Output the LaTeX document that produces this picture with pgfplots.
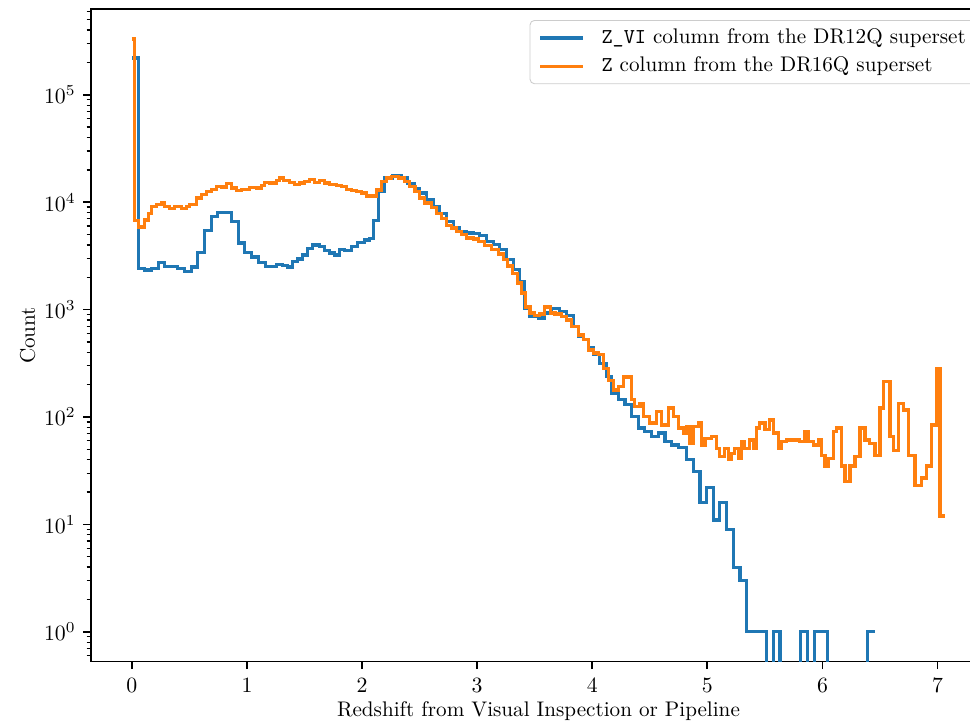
\documentclass[border=0pt]{standalone}
\usepackage{pgfplots}
\pgfplotsset{compat=1.18}
\definecolor{tabblue}{HTML}{1F77B4}
\definecolor{taborange}{HTML}{FF7F0E}
\newcommand{\figfont}{\fontsize{9.7}{11.6}\selectfont}
\begin{document}
\begin{tikzpicture}
\path[use as bounding box] (-41.74pt,-27.84pt) rectangle (403.2pt,303.4pt);
\begin{axis}[
  scale only axis,
  width=410.5pt, height=299.1pt,
  ymode=log,
  xmin=-0.355, xmax=7.42,
  ymin=0.53, ymax=6.24e5,
  xtick={0,1,2,3,4,5,6,7},
  ytick={1,10,100,1000,10000,100000},
  minor ytick={0.6,0.7,0.8,0.9,2,3,4,5,6,7,8,9,20,30,40,50,60,70,80,90,200,300,400,500,600,700,800,900,2000,3000,4000,5000,6000,7000,8000,9000,20000,30000,40000,50000,60000,70000,80000,90000,200000,300000,400000,500000,600000},
  tick align=outside,
  xtick pos=left, ytick pos=left,
  major tick length=3.5pt, minor tick length=2pt,
  tick style={black},
  major tick style={line width=0.8pt},
  minor tick style={line width=0.6pt},
  axis line style={line width=0.8pt},
  tick label style={font=\figfont},
  xticklabel style={yshift=-0.8pt},
  label style={font=\figfont},
  xlabel={Redshift from Visual Inspection or Pipeline},
  ylabel={Count},
  xlabel style={at={(axis description cs:0.5,-0.0608)}, anchor=north, inner sep=0pt},
  ylabel style={at={(axis description cs:-0.0709,0.5)}, anchor=center, inner sep=0pt},
  legend style={at={(1,1)}, anchor=north east, xshift=-5pt, yshift=-4.9pt,
    font=\figfont,
    draw=black!20, rounded corners=2pt, fill=white,
    inner xsep=4pt, inner ysep=3.5pt, row sep=4pt,
    nodes={inner sep=0pt, text height=7pt, text depth=2pt},
    /tikz/every odd column/.style={column sep=7.8pt}},
  legend cell align=left,
  legend image code/.code={\draw[line width=1.5pt, #1] (0pt,0pt) -- (19.5pt,0pt);},
]
\addplot[const plot, color=tabblue, line width=1.5pt] coordinates {
(0,220000) (0.0565,2430) (0.1129,2340) (0.1738,2430) (0.2346,2740) (0.2867,2500)
(0.3996,2410) (0.4605,2265) (0.5213,2490) (0.5734,3400) (0.6342,5450) (0.6924,7360)
(0.7472,8010) (0.8662,6610) (0.9235,4160) (0.9817,3400) (1.0426,3080) (1.1034,2740)
(1.1642,2500) (1.2572,2620) (1.3119,2560) (1.3553,2490) (1.3988,2790) (1.4422,2950)
(1.4857,3230) (1.5291,3700) (1.5725,3990) (1.6334,3840) (1.6768,3550) (1.7202,3370)
(1.7637,3230) (1.8071,3600) (1.8505,3550) (1.9114,3860) (1.9635,4220) (2.0243,4440)
(2.0678,4600) (2.1025,6700) (2.1399,12600) (2.1981,16800) (2.2676,17700) (2.3432,16800)
(2.3979,15000) (2.4561,13500) (2.5022,12150) (2.5604,10520) (2.6177,9120) (2.6759,7900)
(2.7341,6610) (2.7915,5740) (2.8497,5340) (2.9079,5150) (2.9652,5080) (3.0234,4870)
(3.0816,4310) (3.1390,4010) (3.1972,3600) (3.2554,2910) (3.3128,2350) (3.3710,1830)
(3.4144,1030) (3.4579,863) (3.5300,834) (3.5882,929) (3.6464,1030) (3.7185,960)
(3.7767,875) (3.8341,697) (3.8775,562) (3.9210,523) (3.9644,438) (4.0078,379)
(4.0660,317) (4.1242,238) (4.1677,167) (4.2251,145) (4.2833,130) (4.3415,101)
(4.3988,79) (4.4570,73) (4.5152,66) (4.5726,71) (4.6308,59) (4.6890,55)
(4.7463,52) (4.8193,40) (4.8766,31) (4.9349,16) (4.9931,22) (5.0504,11)
(5.1086,16) (5.1668,9) (5.2242,4) (5.2824,3) (5.3406,1) (5.5126,0.01)
(5.5717,1) (5.6308,0.01) (5.8097,1) (5.8697,0.01) (5.9296,1) (6.0426,0.01)
(6.3901,1) (6.4553,1)
};
\addlegendentry{\texttt{Z\_VI} column from the DR12Q superset}
\addplot[const plot, color=taborange, line width=1.5pt] coordinates {
(0,330000) (0.0261,6760) (0.0547,5870) (0.1129,6830) (0.1416,7800) (0.1711,9130)
(0.2146,9500) (0.2580,9980) (0.2867,9130) (0.3302,8700) (0.3736,9130) (0.4318,8700)
(0.4753,9130) (0.5039,9460) (0.5621,10960) (0.6056,11700) (0.6490,12600) (0.6924,13060)
(0.7359,14000) (0.7819,13840) (0.8228,14840) (0.8662,13530) (0.9096,12900) (0.9531,13200)
(0.9965,13060) (1.0252,13800) (1.0834,13530) (1.1268,14300) (1.1555,15200) (1.1990,15080)
(1.2572,15960) (1.2858,16770) (1.3145,15960) (1.3727,15270) (1.4162,14520) (1.4596,15080)
(1.5030,15610) (1.5465,16350) (1.5899,15270) (1.6334,15960) (1.6768,15080) (1.7202,14520)
(1.7784,14300) (1.8219,14030) (1.8653,13200) (1.9088,12800) (1.9522,12550) (1.9957,12150)
(2.0391,11400) (2.1260,13000) (2.1694,15600) (2.2129,16770) (2.2563,17300) (2.3137,16770)
(2.3719,15600) (2.4153,14030) (2.4588,12550) (2.5022,10960) (2.5456,9840) (2.6038,8950)
(2.6473,7900) (2.6907,7000) (2.7341,6100) (2.7776,5740) (2.8210,5340) (2.8645,4980)
(2.9079,4650) (2.9652,4550) (3.0087,4320) (3.0669,3940) (3.1251,3600) (3.1824,3300)
(3.2259,2910) (3.2606,2550) (3.3076,2170) (3.3475,1770) (3.3857,1430) (3.4231,1060)
(3.4579,930) (3.5013,875) (3.5447,910) (3.5882,1060) (3.6377,930) (3.6751,910)
(3.7333,863) (3.7767,800) (3.8202,700) (3.8775,580) (3.9210,525) (3.9644,420)
(4.0078,395) (4.0513,379) (4.0947,285) (4.1381,220) (4.1816,178) (4.2251,192)
(4.2685,236) (4.3415,145) (4.3701,125) (4.4136,134) (4.4423,101) (4.5004,88)
(4.5586,112) (4.6021,84) (4.6594,121) (4.7029,101) (4.7463,79) (4.7898,71)
(4.8193,81) (4.8480,57) (4.8766,81) (4.9201,88) (4.9496,55) (4.9783,63)
(5.0365,66) (5.0799,51) (5.1086,43) (5.1520,51) (5.1807,40) (5.2103,46)
(5.2389,51) (5.2676,41) (5.2971,59) (5.3258,51) (5.3692,61) (5.3979,51)
(5.4275,79) (5.4561,88) (5.4996,76) (5.5430,94) (5.5717,71) (5.6151,51)
(5.6447,59) (5.6881,61) (5.8036,59) (5.8471,73) (5.8757,59) (5.9192,55)
(5.9626,62) (5.9922,44) (6.0209,35) (6.0495,41) (6.0930,73) (6.1225,79)
(6.1660,35) (6.1947,25) (6.2381,35) (6.2815,43) (6.3250,79) (6.3684,61)
(6.4118,57) (6.4553,44) (6.4987,121) (6.5274,214) (6.5856,66) (6.6143,49)
(6.6577,134) (6.7012,116) (6.7446,44) (6.8028,23) (6.8610,27) (6.9045,35)
(6.9479,84) (6.9913,283) (7.0200,12) (7.0634,12)
};
\addlegendentry{\texttt{Z} column from the DR16Q superset}
\end{axis}
\end{tikzpicture}
\end{document}
